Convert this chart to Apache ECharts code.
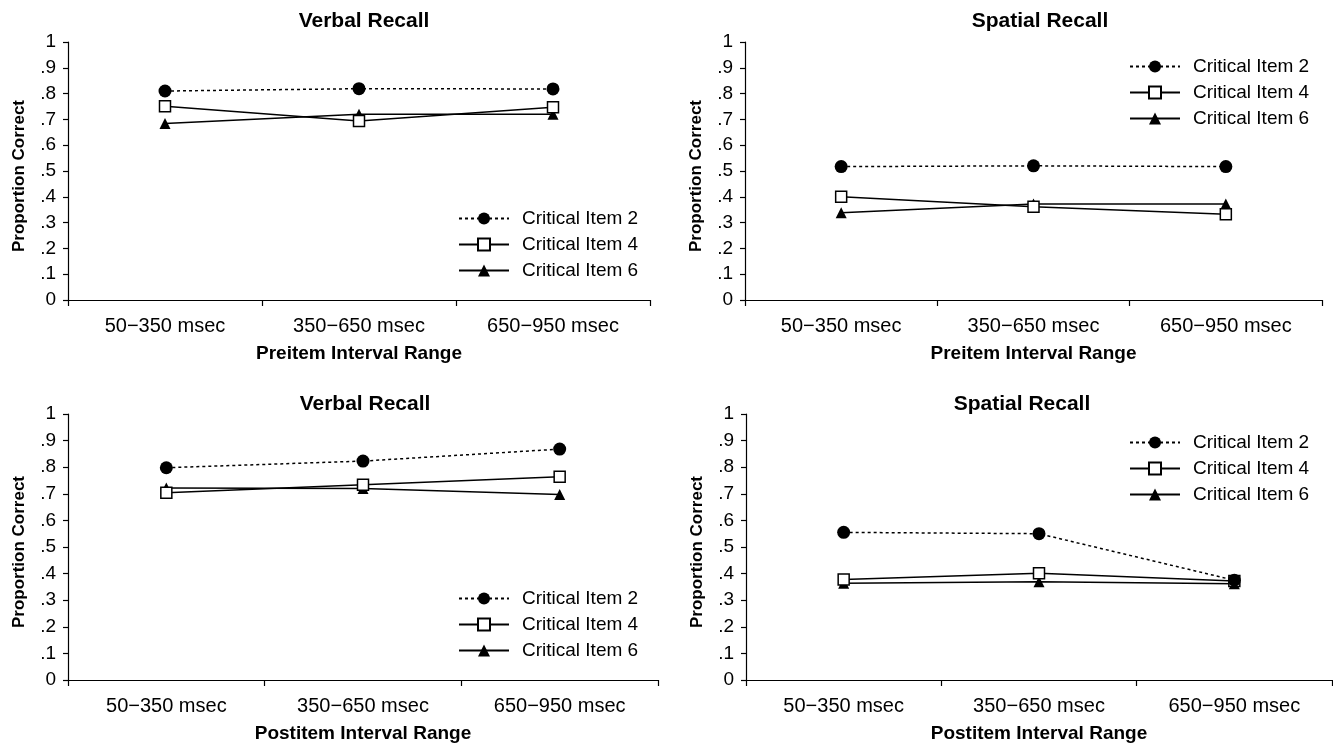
<!DOCTYPE html>
<html>
<head>
<meta charset="utf-8">
<script src="https://cdn.jsdelivr.net/npm/echarts@6/dist/echarts.min.js"></script>
<style>
html,body{margin:0;padding:0;background:#fff;}
#c{width:1333px;height:746px;}
</style>
</head>
<body>
<div id="c"></div>
<script>
const categories = ['50\u2212350 msec', '350\u2212650 msec', '650\u2212950 msec'];
const seriesNames = ['Critical Item 2', 'Critical Item 4', 'Critical Item 6'];
const panelTitles = ['Verbal Recall', 'Spatial Recall', 'Verbal Recall', 'Spatial Recall'];
const xAxisNames = ['Preitem Interval Range', 'Preitem Interval Range', 'Postitem Interval Range', 'Postitem Interval Range'];
const yAxisName = 'Proportion Correct';

// Preitem, Verbal
const preVerbalItem2 = [0.810, 0.819, 0.818];
const preVerbalItem4 = [0.751, 0.694, 0.747];
const preVerbalItem6 = [0.684, 0.720, 0.720];
// Preitem, Spatial
const preSpatialItem2 = [0.517, 0.520, 0.517];
const preSpatialItem4 = [0.400, 0.361, 0.332];
const preSpatialItem6 = [0.338, 0.372, 0.372];
// Postitem, Verbal
const postVerbalItem2 = [0.798, 0.823, 0.868];
const postVerbalItem4 = [0.704, 0.734, 0.764];
const postVerbalItem6 = [0.722, 0.720, 0.697];
// Postitem, Spatial
const postSpatialItem2 = [0.555, 0.550, 0.375];
const postSpatialItem4 = [0.378, 0.401, 0.372];
const postSpatialItem6 = [0.364, 0.369, 0.362];

const panelData = [
  [preVerbalItem2, preVerbalItem4, preVerbalItem6],
  [preSpatialItem2, preSpatialItem4, preSpatialItem6],
  [postVerbalItem2, postVerbalItem4, postVerbalItem6],
  [postSpatialItem2, postSpatialItem4, postSpatialItem6]
];

const FONT = '"Liberation Sans", Arial, Helvetica, sans-serif';
const grids = [
  {left: 68, top: 42, width: 582, height: 258},
  {left: 745, top: 42, width: 577, height: 258},
  {left: 68, top: 414, width: 590, height: 266},
  {left: 746, top: 414, width: 586, height: 266}
];
const titlePos = [
  {left: 359, top: 6},
  {left: 1035, top: 6},
  {left: 360, top: 389},
  {left: 1017, top: 389}
];
const legendPos = [
  {left: 453, top: 204},
  {left: 1124, top: 52},
  {left: 453, top: 584},
  {left: 1124, top: 428}
];

const styles = [
  {symbol: 'circle', symbolSize: 13, lineType: [3, 3], fill: '#000', z: 4},
  {symbol: 'rect', symbolSize: 11, lineType: 'solid', fill: '#fff', z: 3},
  {symbol: 'triangle', symbolSize: 11, lineType: 'solid', fill: '#000', z: 2}
];

const option = {
  animation: false,
  backgroundColor: '#fff',
  title: panelTitles.map((t, i) => ({
    text: t,
    left: titlePos[i].left,
    top: titlePos[i].top,
    textAlign: 'center',
    textStyle: {fontFamily: FONT, fontSize: 21, fontWeight: 'bold', color: '#000'}
  })),
  grid: grids.map(g => Object.assign({containLabel: false}, g)),
  legend: legendPos.map((p, i) => ({
    orient: 'vertical',
    left: p.left,
    top: p.top,
    itemWidth: 50,
    itemHeight: 15,
    itemGap: 7,
    data: seriesNames,
    selectedMode: false,
    textStyle: {fontFamily: FONT, fontSize: 19, color: '#000', padding: [0, 0, 0, 8]}
  })),
  xAxis: grids.map((g, i) => ({
    type: 'category',
    gridIndex: i,
    data: categories,
    boundaryGap: true,
    name: xAxisNames[i],
    nameLocation: 'middle',
    nameGap: 44,
    nameTextStyle: {fontFamily: FONT, fontSize: 19, fontWeight: 'bold', color: '#000'},
    axisLine: {lineStyle: {color: '#000', width: 1.2}},
    axisTick: {show: true, length: 6, lineStyle: {color: '#000', width: 1.2}, alignWithLabel: false},
    axisLabel: {fontFamily: FONT, fontSize: 20, color: '#000', margin: 16},
    splitLine: {show: false}
  })),
  yAxis: grids.map((g, i) => ({
    type: 'value',
    gridIndex: i,
    min: 0,
    max: 1,
    interval: 0.1,
    name: yAxisName,
    nameLocation: 'middle',
    nameGap: 40,
    nameRotate: 90,
    nameTextStyle: {fontFamily: FONT, fontSize: 17, fontWeight: 'bold', color: '#000', padding: [0, 10, 0, 0]},
    axisLine: {show: true, lineStyle: {color: '#000', width: 1.2}},
    axisTick: {show: true, length: 5, lineStyle: {color: '#000', width: 1.2}},
    axisLabel: {
      fontFamily: FONT, fontSize: 19, color: '#000', margin: 12,
      formatter: v => {
        const r = Math.round(v * 10) / 10;
        if (r === 0) return '0';
        if (r === 1) return '1';
        return '.' + Math.round(r * 10);
      }
    },
    splitLine: {show: false}
  })),
  series: []
};

panelData.forEach((arrs, p) => {
  arrs.forEach((vals, s) => {
    const st = styles[s];
    option.series.push({
      type: 'line',
      name: seriesNames[s],
      xAxisIndex: p,
      yAxisIndex: p,
      data: vals,
      symbol: st.symbol,
      symbolSize: st.symbolSize,
      z: st.z,
      lineStyle: {color: '#000', width: 1.5, type: st.lineType},
      itemStyle: {color: st.fill, borderColor: '#000', borderWidth: s === 1 ? 1.5 : 0}
    });
  });
});

const chart = echarts.init(document.getElementById('c'), null, {renderer: 'canvas'});
chart.setOption(option);
</script>
</body>
</html>
